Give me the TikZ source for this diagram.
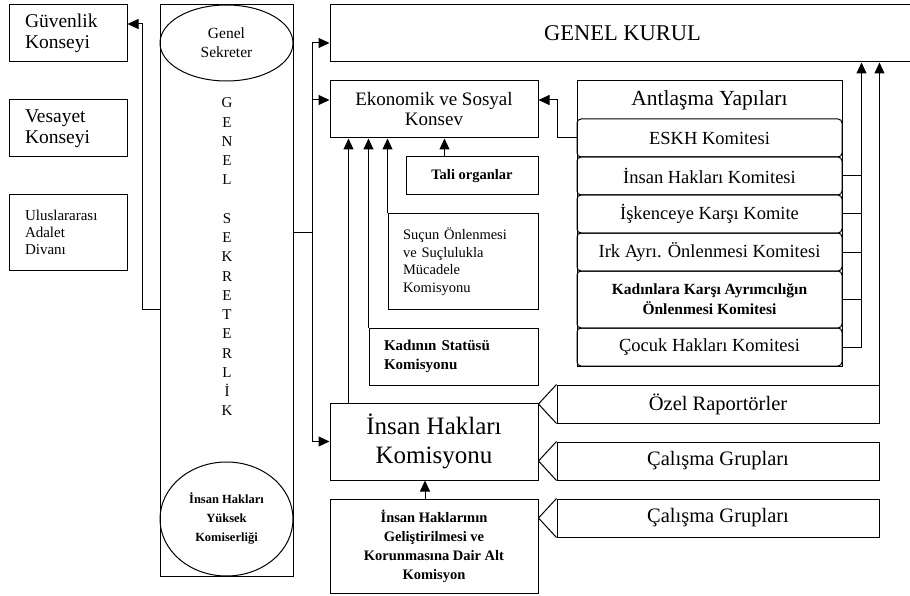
\documentclass[tikz,border=0pt]{standalone}
\usepackage{fontspec}
\setmainfont{Liberation Serif}
\usetikzlibrary{arrows.meta,calc,shapes.geometric}
\tikzset{
  arrow/.style={-{Triangle[length=11pt,width=10pt]}, line width=1pt},
  unit/.style={draw, line width=1pt, inner sep=0pt, align=center, font=\fontsize{19.5}{21}\selectfont},
  smallunit/.style={unit, font=\bfseries\fontsize{14.5}{18.5}\selectfont},
  committee/.style={unit, rounded corners=4pt, minimum width=265pt, minimum height=38pt, font=\fontsize{18.5}{21}\selectfont},
  tagbox/.style={unit, minimum width=322pt, minimum height=38pt, font=\fontsize{20.5}{22}\selectfont},
  office/.style={ellipse, draw, line width=1pt, inner sep=0pt, minimum width=133pt, align=center}
}

\begin{document}
\begin{tikzpicture}[x=1pt,y=-1pt]
  \useasboundingbox (0,0) rectangle (910,596);

  % Councils on the left.
  \node[unit, minimum width=118pt, minimum height=57pt, text width=86pt, inner xsep=16pt, align=left] (guv) at (68,33.5) {Güvenlik\\Konseyi};
  \node[unit, minimum width=118pt, minimum height=57pt, text width=86pt, inner xsep=16pt, align=left] (ves) at (68,128.5) {Vesayet\\Konseyi};
  \node[unit, minimum width=118pt, minimum height=75pt, text width=86pt, inner xsep=16pt, align=left, font=\fontsize{15}{17}\selectfont] (uad) at (68,232.5) {Uluslararası\\Adalet\\Divanı};

  % Secretariat column.
  \node[draw, line width=1pt, minimum width=133pt, minimum height=571pt, inner sep=0pt] (sek) at (226.5,290.5) {};
  \node[office, minimum height=76pt, font=\fontsize{15.5}{19}\selectfont] (gensek) at (226.5,43) {Genel\\Sekreter};
  \node[office, minimum height=114pt, font=\bfseries\fontsize{12.5}{19}\selectfont] (yuksek) at (226.5,519) {İnsan Hakları\\Yüksek\\Komiserliği};
  \node[align=center, font=\fontsize{15}{19.25}\selectfont] (sektext) at (227,257) {G\\E\\N\\E\\L\\[19.25pt]S\\E\\K\\R\\E\\T\\E\\R\\L\\İ\\K};

  % Main organs.
  \node[unit, minimum width=585pt, minimum height=57pt, font=\fontsize{22.5}{24}\selectfont] (kurul) at (622.5,33.5) {GENEL KURUL};
  \node[unit, minimum width=208pt, minimum height=57pt, font=\fontsize{19}{20}\selectfont] (eko) at (434,109.5) {Ekonomik ve Sosyal\\Konsev};
  \node[smallunit, minimum width=132pt, minimum height=38pt] (tali) at (472,176) {Tali organlar};
  \node[unit, minimum width=150pt, minimum height=95pt, text width=120pt, inner xsep=15pt, align=left, font=\fontsize{14.5}{17.5}\selectfont] (sucun) at (463,261.5) {Suçun Önlenmesi\\ve Suçlulukla\\Mücadele\\Komisyonu};
  \node[smallunit, minimum width=169pt, minimum height=57pt, text width=139pt, inner xsep=15pt, align=left, font=\bfseries\fontsize{15}{19}\selectfont] (kadst) at (453.5,356.5) {Kadının Statüsü\\Komisyonu};
  \node[unit, minimum width=208pt, minimum height=77pt, font=\fontsize{25}{29}\selectfont] (ihk) at (434,441.5) {İnsan Hakları\\Komisyonu};
  \node[smallunit, minimum width=208pt, minimum height=94pt, font=\bfseries\fontsize{14.5}{19}\selectfont] (altkom) at (434,546) {İnsan Haklarının\\Geliştirilmesi ve\\Korunmasına Dair Alt\\Komisyon};

  % Treaty bodies.
  \node[draw, line width=1pt, minimum width=265pt, minimum height=285pt, inner sep=0pt] (antl) at (709.5,223.5) {};
  \node[font=\fontsize{21.5}{22}\selectfont] (antlhead) at (709.5,100) {Antlaşma Yapıları};
  \node[committee] (eskh) at (709.5,138) {ESKH Komitesi};
  \node[committee] (ihkom) at (709.5,176) {İnsan Hakları Komitesi};
  \node[committee] (isk) at (709.5,214) {İşkenceye Karşı Komite};
  \node[committee] (irk) at (709.5,252) {Irk Ayrı. Önlenmesi Komitesi};
  \node[committee, minimum height=57pt, font=\bfseries\fontsize{15.5}{20}\selectfont] (kad) at (709.5,299.5) {Kadınlara Karşı Ayrımcılığın\\Önlenmesi Komitesi};
  \node[committee] (cocuk) at (709.5,347) {Çocuk Hakları Komitesi};

  % Rapporteurs and working groups.
  \node[tagbox] (ozel) at (718,404) {Özel Raportörler};
  \node[tagbox] (calis1) at (718,461) {Çalışma Grupları};
  \node[tagbox] (calis2) at (718,518) {Çalışma Grupları};
  \foreach \t in {ozel,calis1,calis2}
    \draw[line width=1pt] (\t.north west) -- ($(\t.west)+(-18,0)$) -- (\t.south west);

  % Links from the secretariat.
  \coordinate (hub) at (312,232);
  \coordinate (lbend) at (142,309);
  \draw[line width=1pt] (sek.east |- hub) -- (hub);
  \draw[arrow] (hub) |- ($(kurul.west)+(0,9.5)$);
  \draw[arrow] (hub) |- ($(eko.west)+(0,-9.5)$);
  \draw[arrow] (hub) |- (ihk.west);
  \draw[arrow] (sek.west |- lbend) -- (lbend) |- ($(guv.east)+(0,-9.5)$);

  % Reports to ECOSOC.
  \draw[arrow] ([xshift=19pt]ihk.north west) -- ([xshift=19pt]eko.south west);
  \draw[arrow] (kadst.north west) -- (kadst.north west |- eko.south);
  \draw[arrow] (sucun.north west) -- (sucun.north west |- eko.south);
  \draw[arrow] ([xshift=39pt]tali.north west) -- ([xshift=39pt]tali.north west |- eko.south);
  \draw[arrow] (eskh.west) -- ++(-19,0) |- ($(eko.east)+(0,-9.5)$);
  \draw[arrow] ([xshift=-9pt]altkom.north) -- ([xshift=-9pt]altkom.north |- ihk.south);

  % Reports to the General Assembly.
  \draw[arrow] (cocuk.east) -- ++(19,0) coordinate (bus) -- (bus |- kurul.south);
  \foreach \c in {ihkom,isk,irk,kad}
    \draw[line width=1pt] (\c.east) -- (\c.east -| bus);
  \draw[arrow] (ozel.east) -- (ozel.east |- kurul.south);
\end{tikzpicture}
\end{document}
